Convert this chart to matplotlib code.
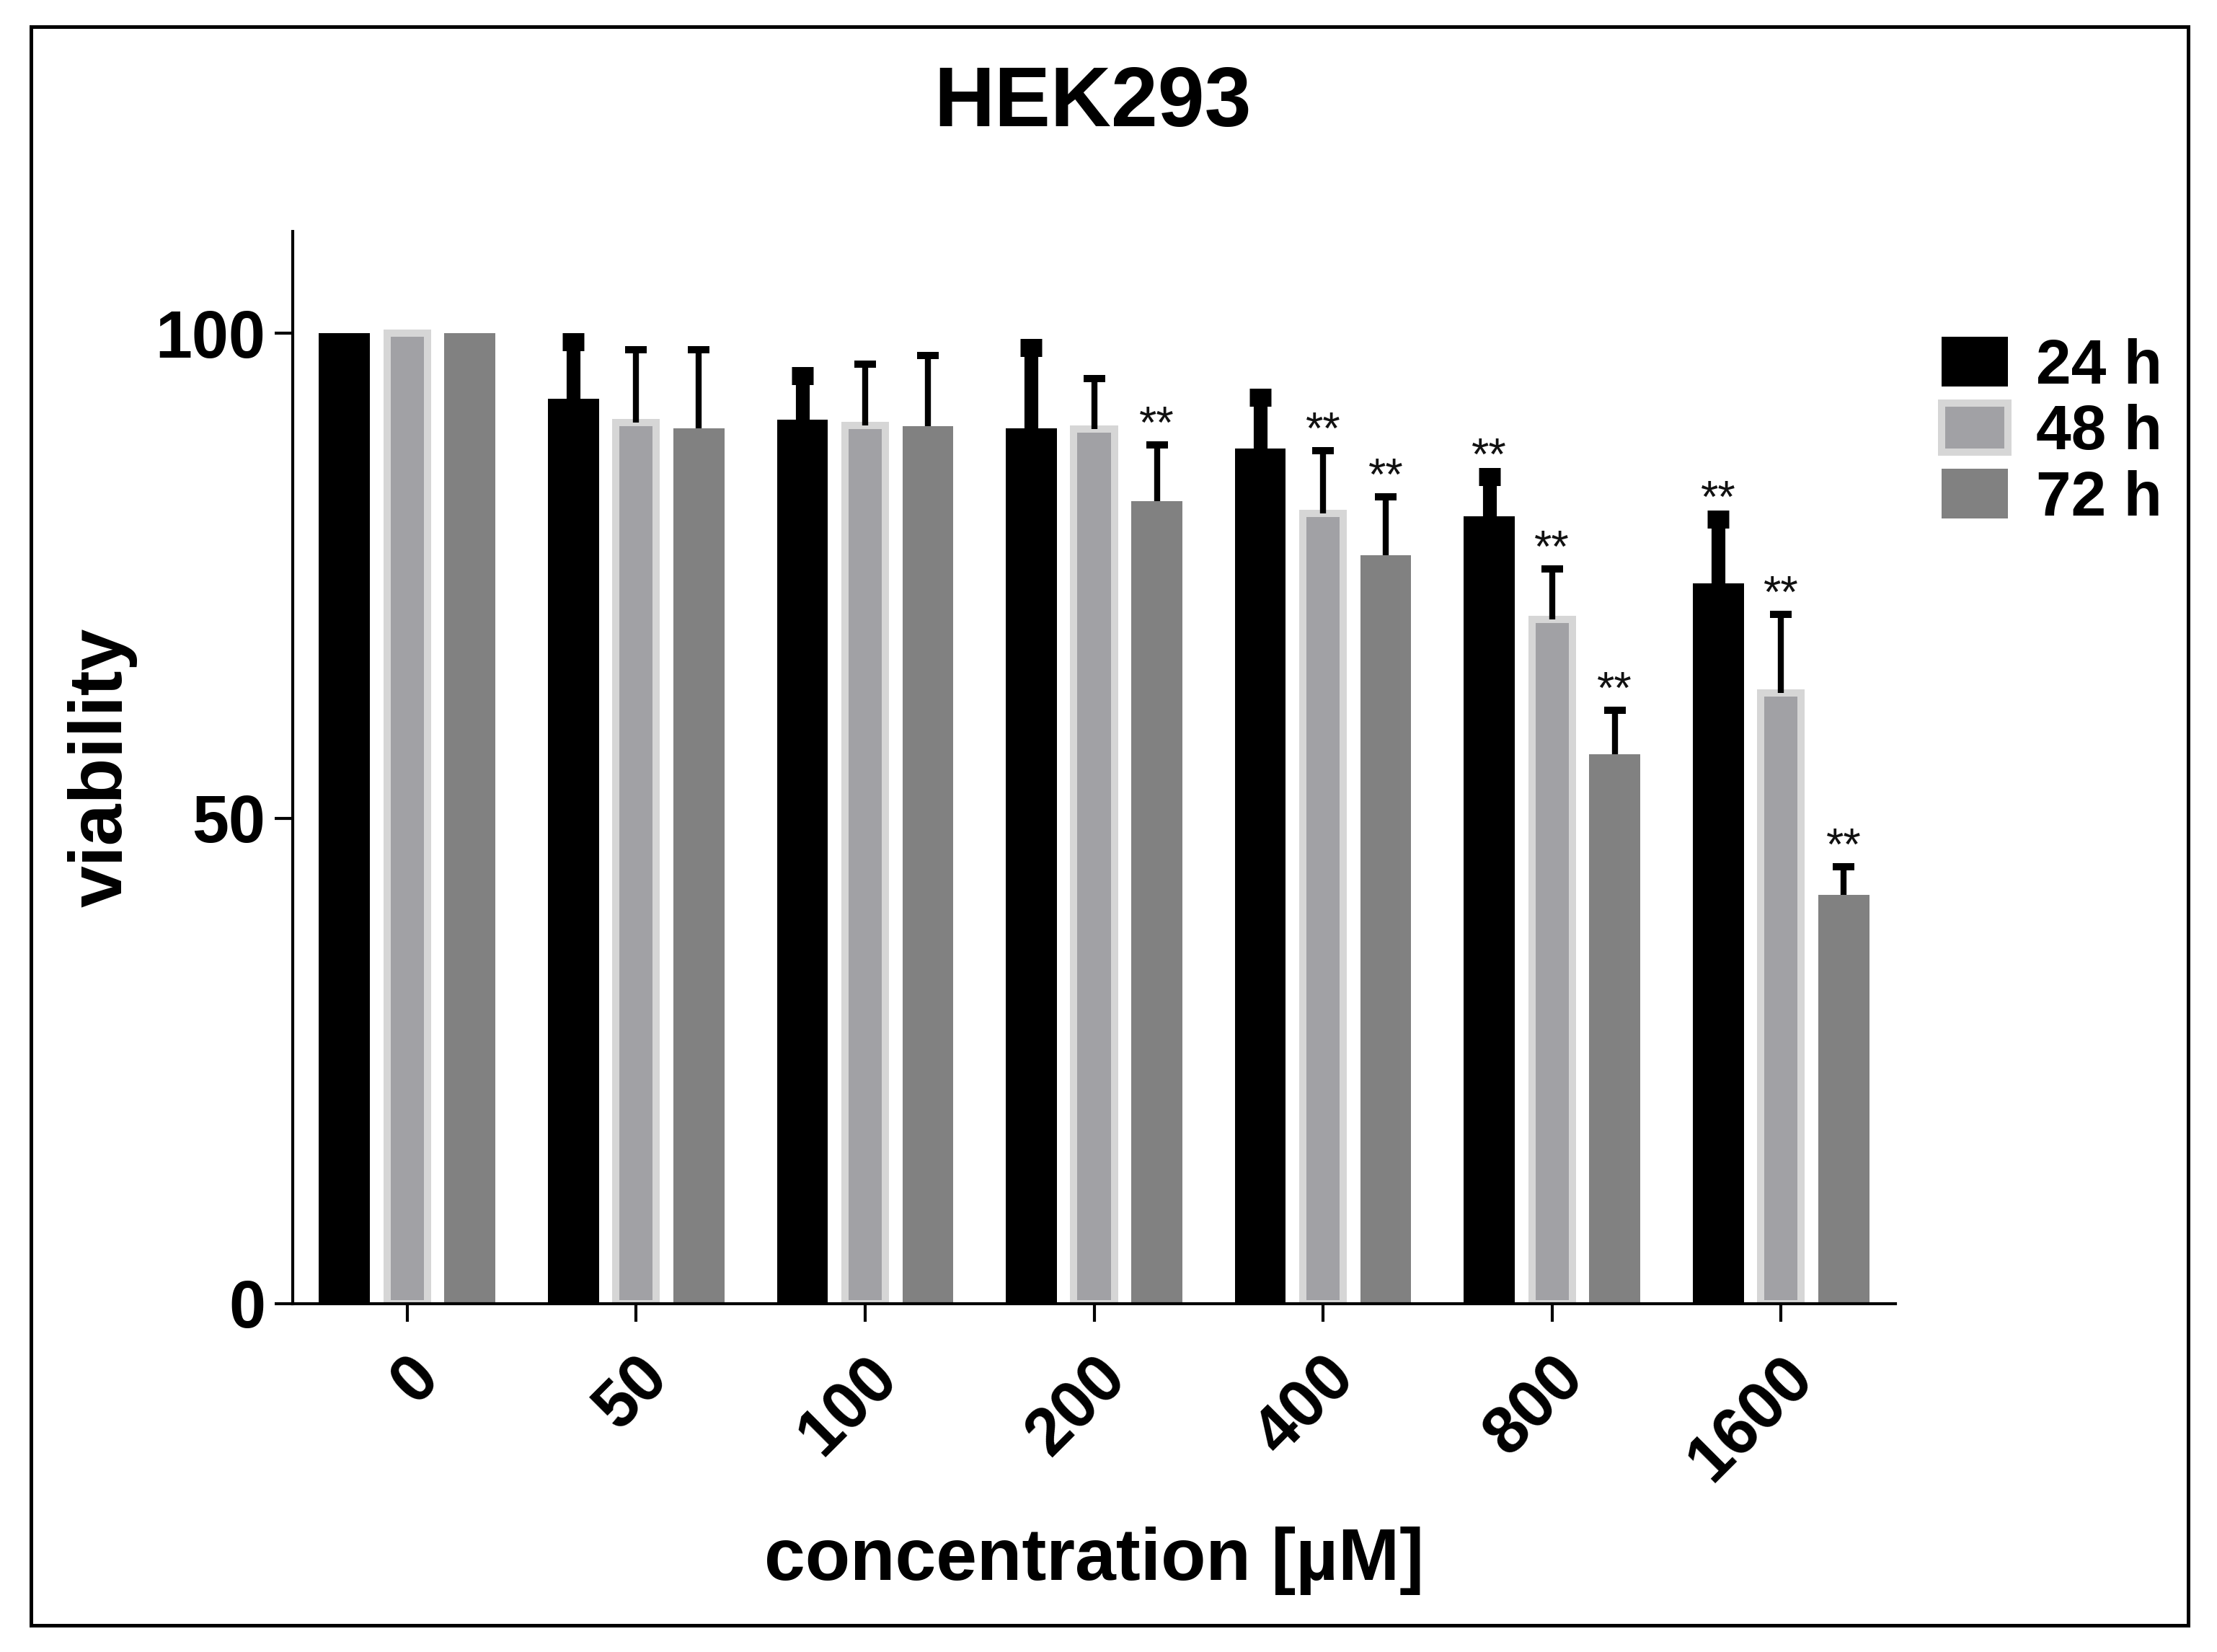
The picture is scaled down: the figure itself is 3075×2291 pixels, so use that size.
import matplotlib
matplotlib.use('Agg')
import matplotlib.pyplot as plt
import matplotlib.patches as patches
import numpy as np

plt.rcParams['font.family'] = ['Liberation Sans', 'DejaVu Sans']

concentrations = ['0', '50', '100', '200', '400', '800', '1600']
series_names = ['24 h', '48 h', '72 h']

via_24 = [100, 93.2, 91.1, 90.2, 88.1, 81.1, 74.2]
err_24 = [0, 5.9, 4.5, 8.3, 5.3, 4.1, 6.6]
via_48 = [100, 90.8, 90.5, 90.1, 81.4, 70.5, 62.9]
err_48 = [0, 7.5, 6.3, 5.2, 6.5, 5.2, 8.1]
via_72 = [100, 90.2, 90.4, 82.7, 77.1, 56.6, 42.1]
err_72 = [0, 8.1, 7.3, 5.8, 6.0, 4.5, 2.9]

# 1 = marked with ** (significant)
sig_24 = [0, 0, 0, 0, 0, 1, 1]
sig_48 = [0, 0, 0, 0, 1, 1, 1]
sig_72 = [0, 0, 0, 1, 1, 1, 1]

fig = plt.figure(figsize=(10.25, 7.637), dpi=300)
ax = fig.add_axes([0.132, 0.211, 0.723, 0.649])

x = np.arange(len(concentrations))
offset = 0.274

styles = [
    dict(color='#000000', edge='#000000', lw=0, width=0.222,
         elw=4.6, capthick=6.0),
    dict(color='#a1a1a5', edge='#d6d6d6', lw=2.4, width=0.177,
         elw=2.0, capthick=2.4),
    dict(color='#818181', edge='#818181', lw=0, width=0.222,
         elw=2.0, capthick=2.4),
]
values = [via_24, via_48, via_72]
errors = [err_24, err_48, err_72]
sigs = [sig_24, sig_48, sig_72]

handles = []
for i, (vals, errs, sig, st) in enumerate(zip(values, errors, sigs, styles)):
    pos = x + (i - 1) * offset
    bars = ax.bar(pos, vals, st['width'], color=st['color'],
                  edgecolor=st['edge'], linewidth=st['lw'], zorder=2,
                  label=series_names[i])
    handles.append(bars)
    mask = np.array(errs) > 0
    eb = ax.errorbar(pos[mask], np.array(vals)[mask],
                     yerr=[np.zeros(mask.sum()), np.array(errs)[mask]],
                     fmt='none', ecolor='black', elinewidth=st['elw'],
                     capsize=3.5, capthick=st['capthick'], zorder=3)
    # upper error only: hide the lower caps
    eb[1][0].set_visible(False)
    for p, v, e, s in zip(pos, vals, errs, sig):
        if s:
            ax.text(p, v + e + 2.0, '**', ha='center', va='center',
                    fontsize=15, color='#111111')

ax.set_xlim(-0.5, len(concentrations) - 0.5)
ax.set_ylim(0, 110.5)
ax.set_yticks([0, 50, 100])
ax.set_xticks(x)
ax.set_xticklabels(concentrations, rotation=45, ha='right',
                   rotation_mode='anchor')

for lab in ax.get_xticklabels() + ax.get_yticklabels():
    lab.set_fontweight('bold')
    lab.set_fontsize(22)

ax.tick_params(axis='both', length=6, width=1.0, direction='out', pad=3)
ax.tick_params(axis='x', pad=8)
for side in ['top', 'right']:
    ax.spines[side].set_visible(False)
for side in ['left', 'bottom']:
    ax.spines[side].set_linewidth(1.0)

ax.set_ylabel('viability', fontsize=25, fontweight='bold', labelpad=6)
ax.set_xlabel('concentration [µM]', fontsize=24.5, fontweight='bold',
              labelpad=11)

fig.text(0.493, 0.937, 'HEK293', ha='center', va='center',
         fontsize=28, fontweight='bold')

leg = ax.legend(handles=handles, loc='upper left',
                bbox_to_anchor=(1.013, 0.925), frameon=False,
                prop=dict(size=21, weight='bold'),
                handlelength=1.05, handleheight=0.83,
                handletextpad=0.45, labelspacing=0.1, borderaxespad=0)

# outer frame around the whole figure
frame = patches.Rectangle((0.014, 0.016), 0.973, 0.968,
                          transform=fig.transFigure, fill=False,
                          edgecolor='black', linewidth=1.2)
fig.patches.append(frame)

plt.savefig('out.png', dpi=300)
plt.close()
